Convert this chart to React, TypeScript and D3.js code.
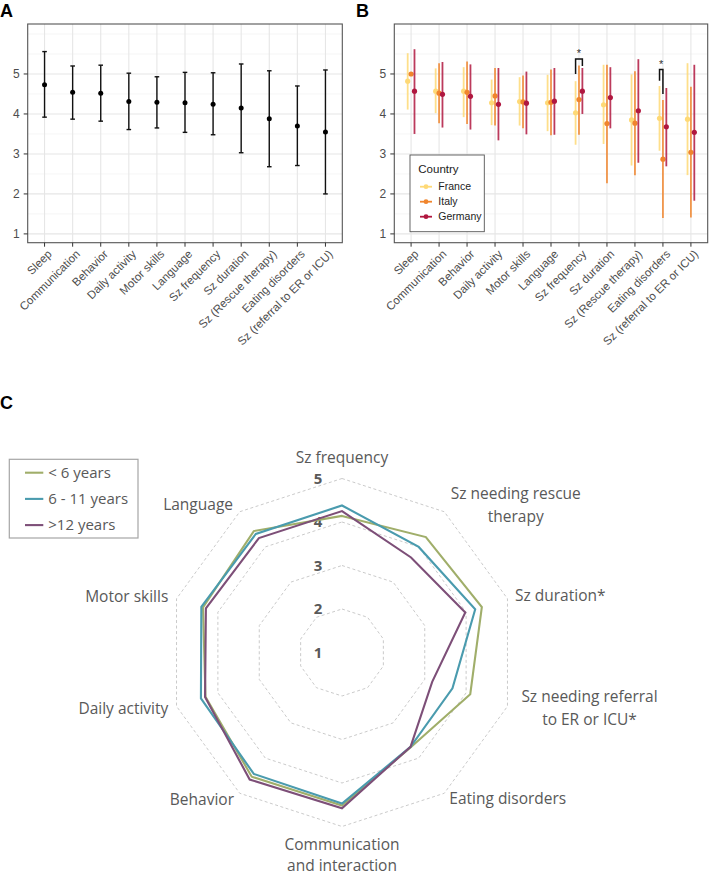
import React from "react";
import * as d3 from "d3";

// ---------- Data ----------
const categories = [
  "Sleep",
  "Communication",
  "Behavior",
  "Daily activity",
  "Motor skills",
  "Language",
  "Sz frequency",
  "Sz duration",
  "Sz (Rescue therapy)",
  "Eating disorders",
  "Sz (referral to ER or ICU)",
];
const yTicks = [1, 2, 3, 4, 5];

// Panel A: overall mean and interval
const overallMean = [4.73, 4.54, 4.52, 4.31, 4.29, 4.28, 4.24, 4.15, 3.88, 3.7, 3.55];
const overallLow = [3.92, 3.87, 3.82, 3.61, 3.65, 3.54, 3.48, 3.03, 2.68, 2.71, 2.0];
const overallHigh = [5.56, 5.2, 5.22, 5.02, 4.93, 5.04, 5.03, 5.25, 5.08, 4.7, 5.1];

// Panel B: by country
const countries = ["France", "Italy", "Germany"];
const franceMean = [4.82, 4.57, 4.57, 4.28, 4.31, 4.28, 4.03, 4.23, 3.85, 3.89, 3.87];
const franceLow = [4.11, 4.02, 3.92, 3.72, 3.71, 3.57, 3.23, 3.25, 2.71, 3.08, 2.47];
const franceHigh = [5.52, 5.14, 5.17, 4.86, 4.92, 4.98, 4.82, 5.23, 4.99, 4.7, 5.27];
const italyMean = [5.0, 4.52, 4.54, 4.45, 4.3, 4.29, 4.36, 3.76, 3.77, 2.87, 3.04];
const italyLow = [5.0, 3.77, 3.75, 3.71, 3.64, 3.47, 3.48, 2.27, 2.47, 1.4, 1.41];
const italyHigh = [5.0, 5.27, 5.31, 5.15, 4.96, 5.11, 5.21, 5.23, 5.07, 4.35, 4.68];
const germanyMean = [4.57, 4.49, 4.44, 4.24, 4.27, 4.32, 4.57, 4.41, 4.08, 3.68, 3.54];
const germanyLow = [3.5, 3.66, 3.61, 3.34, 3.49, 3.48, 4.0, 3.64, 2.78, 2.69, 1.83];
const germanyHigh = [5.62, 5.3, 5.24, 5.15, 5.06, 5.15, 5.15, 5.17, 5.37, 4.65, 5.23];

// significance brackets
const sigCategories = ["Sz frequency", "Eating disorders"];
const sigFrom = [0, 0];
const sigTo = [2, 1];
const sigLeftBottom = [5.0, 4.83];
const sigTop = [5.375, 5.11];
const sigRightBottom = [5.2, 4.5];

// Panel C: radar by age
const radarAxes = [
  "Sz frequency",
  "Sz needing rescue therapy",
  "Sz duration*",
  "Sz needing referral to ER or ICU*",
  "Eating disorders",
  "Communication and interaction",
  "Behavior",
  "Daily activity",
  "Motor skills",
  "Language",
];
const ageGroups = ["< 6 years", "6 - 11 years", ">12 years"];
const under6 = [4.14, 4.28, 4.38, 4.1, 3.69, 4.52, 4.53, 4.3, 4.36, 4.45];
const age6to11 = [4.38, 4.0, 4.22, 3.67, 3.68, 4.47, 4.45, 4.41, 4.4, 4.37];
const over12 = [4.25, 3.7, 3.98, 3.18, 3.68, 4.58, 4.61, 4.31, 4.29, 4.25];
const radarRings = [2, 3, 4, 5];
const radarRingLabels = [1, 2, 3, 4, 5];

// ---------- Styles ----------
const countryColors = ["#FED976", "#F0852D", "#B0173F"];
const ageColors = ["#A0AE6A", "#4A9BAE", "#7D4F78"];
const AXIS_FONT = "'Liberation Sans', Arial, sans-serif";
const RADAR_FONT = "'Open Sans', 'Noto Sans', sans-serif";

const y = d3.scaleLinear().domain([0.78, 6.25]).range([242.7, 24]);
const minorGrid = [1.5, 2.5, 3.5, 4.5, 5.5, 6];

function PanelFrame({ x0, x1, xs }: { x0: number; x1: number; xs: d3.ScalePoint<string> }) {
  const top = y.range()[1];
  const bottom = y.range()[0];
  return (
    <g>
      <rect x={x0} y={top} width={x1 - x0} height={bottom - top} fill="#fff" />
      {minorGrid.map((v) => (
        <line key={"mi" + v} x1={x0} x2={x1} y1={y(v)} y2={y(v)} stroke="#F0F0F0" strokeWidth={0.6} />
      ))}
      {yTicks.map((v) => (
        <line key={"ma" + v} x1={x0} x2={x1} y1={y(v)} y2={y(v)} stroke="#E6E6E6" strokeWidth={1.1} />
      ))}
      {categories.map((c) => (
        <line key={"v" + c} x1={xs(c)} x2={xs(c)} y1={top} y2={bottom} stroke="#E6E6E6" strokeWidth={1.1} />
      ))}
      <rect x={x0} y={top} width={x1 - x0} height={bottom - top} fill="none" stroke="#555" strokeWidth={1.1} />
      {yTicks.map((v) => (
        <g key={"yt" + v}>
          <line x1={x0 - 4} x2={x0} y1={y(v)} y2={y(v)} stroke="#333" strokeWidth={1} />
          <text x={x0 - 8} y={y(v)} dy="0.36em" textAnchor="end" fontSize={12} fill="#4D4D4D" fontFamily={AXIS_FONT}>
            {v}
          </text>
        </g>
      ))}
      {categories.map((c) => (
        <g key={"xt" + c}>
          <line x1={xs(c)} x2={xs(c)} y1={bottom} y2={bottom + 4} stroke="#333" strokeWidth={1} />
          <text
            transform={`translate(${xs(c)! + 2},${bottom + 6}) rotate(-45)`}
            dy="0.75em"
            textAnchor="end"
            fontSize={11.5}
            fill="#4D4D4D"
            fontFamily={AXIS_FONT}
          >
            {c}
          </text>
        </g>
      ))}
    </g>
  );
}

function PanelA() {
  const xs = d3.scalePoint<string>().domain(categories).range([27.7, 342.3]).padding(0.6);
  return (
    <g>
      <PanelFrame x0={27.7} x1={342.3} xs={xs} />
      {categories.map((c, i) => {
        const cx = xs(c)!;
        return (
          <g key={c}>
            <line x1={cx} x2={cx} y1={y(overallLow[i])} y2={y(overallHigh[i])} stroke="#111" strokeWidth={1.4} />
            <line x1={cx - 2.3} x2={cx + 2.3} y1={y(overallLow[i])} y2={y(overallLow[i])} stroke="#111" strokeWidth={1.4} />
            <line x1={cx - 2.3} x2={cx + 2.3} y1={y(overallHigh[i])} y2={y(overallHigh[i])} stroke="#111" strokeWidth={1.4} />
            <circle cx={cx} cy={y(overallMean[i])} r={2.5} fill="#000" />
          </g>
        );
      })}
    </g>
  );
}

function PanelB() {
  const xs = d3.scalePoint<string>().domain(categories).range([394.3, 707.7]).padding(0.6);
  const dodge = d3.scalePoint<number>().domain([0, 1, 2]).range([-3.4, 3.4]);
  const series = [
    { mean: franceMean, low: franceLow, high: franceHigh },
    { mean: italyMean, low: italyLow, high: italyHigh },
    { mean: germanyMean, low: germanyLow, high: germanyHigh },
  ];
  return (
    <g>
      <PanelFrame x0={394.3} x1={707.7} xs={xs} />
      {series.map((s, k) => (
        <g key={k}>
          {categories.map((c, i) => {
            const cx = xs(c)! + dodge(k)!;
            return (
              <g key={c}>
                <line
                  x1={cx}
                  x2={cx}
                  y1={y(s.low[i])}
                  y2={y(s.high[i])}
                  stroke={countryColors[k]}
                  strokeWidth={1.8}
                  strokeOpacity={0.85}
                />
                <circle cx={cx} cy={y(s.mean[i])} r={2.6} fill={countryColors[k]} />
              </g>
            );
          })}
        </g>
      ))}
      {sigCategories.map((c, j) => {
        const xl = xs(c)! + dodge(sigFrom[j])!;
        const xr = xs(c)! + dodge(sigTo[j])!;
        return (
          <g key={"sig" + c}>
            <path
              d={`M${xl},${y(sigLeftBottom[j])}V${y(sigTop[j])}H${xr}V${y(sigRightBottom[j])}`}
              fill="none"
              stroke="#111"
              strokeWidth={1.5}
            />
            <text x={(xl + xr) / 2} y={y(sigTop[j]) - 2} textAnchor="middle" fontSize={11} fill="#333" fontFamily={AXIS_FONT}>
              *
            </text>
          </g>
        );
      })}
      {/* legend */}
      <g>
        <rect x={410} y={155} width={74.3} height={76.7} fill="#fff" stroke="#555" strokeWidth={0.9} />
        <text x={418.3} y={169.3} dy="0.35em" fontSize={11.5} fill="#222" fontFamily={AXIS_FONT}>
          Country
        </text>
        {countries.map((name, k) => {
          const ly = 186.7 + k * 15;
          return (
            <g key={name}>
              <line x1={420} x2={432} y1={ly} y2={ly} stroke={countryColors[k]} strokeWidth={1.8} />
              <circle cx={426} cy={ly} r={2.4} fill={countryColors[k]} />
              <text x={438.3} y={ly} dy="0.35em" fontSize={10.5} fill="#222" fontFamily={AXIS_FONT}>
                {name}
              </text>
            </g>
          );
        })}
      </g>
    </g>
  );
}

function PanelC() {
  const cx = 342;
  const cy = 652.5;
  const n = radarAxes.length;
  const r = d3.scaleLinear().domain([1, 5]).range([0, 174]);
  const ang = (i: number) => (i * 2 * Math.PI) / n;
  const radial = d3
    .lineRadial<number>()
    .angle((_, i) => ang(i))
    .radius((d) => r(d))
    .curve(d3.curveLinearClosed);
  const vx = (i: number, v: number) => cx + r(v) * Math.sin(ang(i));
  const vy = (i: number, v: number) => cy - r(v) * Math.cos(ang(i));
  const seriesC = [under6, age6to11, over12];

  const labelLayout: { dx: number; dy: number; anchor: string; lh: number; lines: string[] }[] = [
    { dx: 0, dy: -20.5, anchor: "middle", lh: 22.5, lines: ["Sz frequency"] },
    { dx: 71.5, dy: -6.7, anchor: "middle", lh: 23, lines: ["Sz needing rescue", "therapy"] },
    { dx: 7.5, dy: -3, anchor: "start", lh: 22.5, lines: ["Sz duration*"] },
    { dx: 82, dy: 1.7, anchor: "middle", lh: 23, lines: ["Sz needing referral", "to ER or ICU*"] },
    { dx: 5, dy: 5.7, anchor: "start", lh: 22.5, lines: ["Eating disorders"] },
    { dx: 0, dy: 28.3, anchor: "middle", lh: 21.4, lines: ["Communication", "and interaction"] },
    { dx: -5.7, dy: 6, anchor: "end", lh: 22.5, lines: ["Behavior"] },
    { dx: -8.2, dy: 2, anchor: "end", lh: 22.5, lines: ["Daily activity"] },
    { dx: -8.2, dy: -2, anchor: "end", lh: 22.5, lines: ["Motor skills"] },
    { dx: -6.7, dy: -7, anchor: "end", lh: 22.5, lines: ["Language"] },
  ];

  return (
    <g>
      {radarRings.map((v) => (
        <path
          key={"ring" + v}
          d={radial(d3.range(n).map(() => v))!}
          transform={`translate(${cx},${cy})`}
          fill="none"
          stroke="#C4C4C4"
          strokeWidth={0.9}
          strokeDasharray="3,2.5"
        />
      ))}
      {radarRingLabels.map((v) => (
        <text
          key={"rl" + v}
          x={cx - 24}
          y={cy - r(v)}
          dy="0.36em"
          textAnchor="middle"
          fontSize={15}
          fontWeight="bold"
          fill="#595959"
          fontFamily={RADAR_FONT}
        >
          {v}
        </text>
      ))}
      {seriesC.map((s, k) => (
        <path
          key={"s" + k}
          d={radial(s)!}
          transform={`translate(${cx},${cy})`}
          fill="none"
          stroke={ageColors[k]}
          strokeWidth={2.1}
          strokeLinejoin="miter"
        />
      ))}
      {radarAxes.map((a, i) => {
        const L = labelLayout[i];
        const bx = vx(i, 5) + L.dx;
        const by = vy(i, 5) + L.dy;
        const off = ((L.lines.length - 1) * L.lh) / 2;
        return (
          <text key={a} textAnchor={L.anchor as any} fontSize={15.5} fill="#595959" fontFamily={RADAR_FONT}>
            {L.lines.map((ln, j) => (
              <tspan key={j} x={bx} y={by - off + j * L.lh} dy="0.35em">
                {ln}
              </tspan>
            ))}
          </text>
        );
      })}
      {/* legend */}
      <g>
        <rect x={9.3} y={459.3} width={128.7} height={78.7} fill="#fff" stroke="#A6A6A6" strokeWidth={1.2} />
        {ageGroups.map((g, k) => {
          const ly = 472.7 + k * 26.2;
          return (
            <g key={g}>
              <line x1={25} x2={43.3} y1={ly} y2={ly} stroke={ageColors[k]} strokeWidth={2.1} />
              <text x={48.3} y={ly} dy="0.35em" fontSize={15} fill="#595959" fontFamily={RADAR_FONT}>
                {g}
              </text>
            </g>
          );
        })}
      </g>
    </g>
  );
}

export default function App() {
  return (
    <svg
      width={709}
      height={875}
      viewBox="0 0 709 875"
      style={{ position: "absolute", left: 0, top: 0, display: "block", background: "#fff" }}
    >
      <rect x={0} y={0} width={709} height={875} fill="#fff" />
      <text x={0} y={16.5} fontSize={18} fontWeight="bold" fontFamily={AXIS_FONT} fill="#000">
        A
      </text>
      <text x={356} y={16.5} fontSize={18} fontWeight="bold" fontFamily={AXIS_FONT} fill="#000">
        B
      </text>
      <text x={0} y={409} fontSize={18} fontWeight="bold" fontFamily={AXIS_FONT} fill="#000">
        C
      </text>
      <PanelA />
      <PanelB />
      <PanelC />
    </svg>
  );
}
